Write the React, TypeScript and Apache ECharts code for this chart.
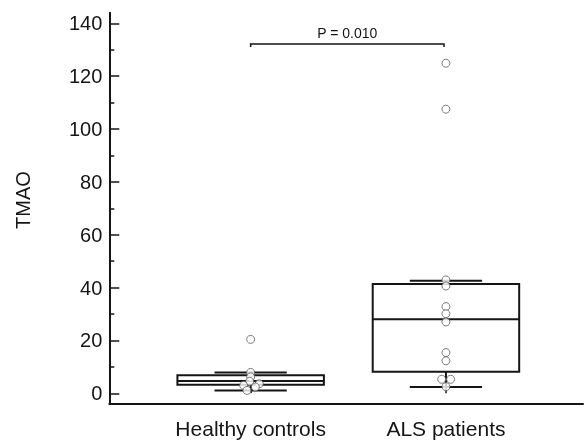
import React, { useEffect, useRef } from "react";
import * as echarts from "echarts";

const categories = ["Healthy controls", "ALS patients"];
const yTicks = { min: 0, max: 140, interval: 20 };

// box summaries: [lower whisker, Q1, median, Q3, upper whisker]
const healthyBox = [1.06, 3.2, 4.7, 6.85, 7.9];
const alsBox = [2.4, 8.2, 28.0, 41.35, 42.6];

// individual observations and their horizontal jitter (in group units)
const healthyValues = [20.4, 7.9, 6.2, 4.5, 3.0, 3.6, 2.4, 1.1];
const healthyJitter = [0, 0, 0, -0.005, -0.036, 0.044, 0.024, -0.019];
const alsValues = [124.9, 107.5, 42.9, 40.6, 32.8, 30.1, 27.0, 15.4, 12.3, 5.3, 5.3, 2.5];
const alsJitter = [0, 0, 0, 0, 0, 0, 0, 0, 0, -0.022, 0.024, 0];

const bracketFrom = 1;
const bracketTo = 1.99;
const bracketY = 132.2;
const pLabel = "P = 0.010";

const FONT = "'Liberation Sans', Arial, Helvetica, sans-serif";
const INK = "#151515";

export default function App() {
  const ref = useRef<HTMLDivElement>(null);
  useEffect(() => {
    if (!ref.current) return;
    const chart = echarts.init(ref.current, null, { renderer: "svg" });
    const boxData = [
      [1, ...healthyBox],
      [2, ...alsBox],
    ];
    const points = [
      ...healthyValues.map((v, i) => [1 + healthyJitter[i], v]),
      ...alsValues.map((v, i) => [2 + alsJitter[i], v]),
    ];
    const lineStyle = { stroke: INK, lineWidth: 2, fill: "none" };
    chart.setOption({
      animation: false,
      grid: [
        { left: 109.3, right: 1, top: 12.7, bottom: 36.3 },
        { left: 153, right: 40.4, top: 23.3, bottom: 46.7 },
      ],
      xAxis: [
        {
          type: "value", gridIndex: 0, min: 0, max: 1,
          axisLine: { show: true, onZero: false, lineStyle: { color: INK, width: 2 } },
          axisTick: { show: false }, axisLabel: { show: false }, splitLine: { show: false },
        },
        {
          type: "category", gridIndex: 1, data: categories, boundaryGap: true, offset: 10.4,
          axisLine: { show: false },
          axisTick: { show: true, inside: true, alignWithLabel: true, interval: 0, length: 10, lineStyle: { color: INK, width: 1.5 } },
          axisLabel: { fontSize: 21, color: INK, fontFamily: FONT, margin: 14, interval: 0 },
          splitLine: { show: false },
        },
        {
          type: "value", gridIndex: 1, min: 0.5, max: 2.5, show: false,
        },
      ],
      yAxis: [
        {
          type: "value", gridIndex: 0, min: 0, max: 1,
          axisLine: { show: true, onZero: false, lineStyle: { color: INK, width: 2 } },
          axisTick: { show: false }, axisLabel: { show: false }, splitLine: { show: false },
        },
        {
          type: "value", gridIndex: 1, min: yTicks.min, max: yTicks.max, interval: yTicks.interval, offset: 43.7,
          axisLine: { show: false },
          axisTick: { show: true, inside: true, length: 10, lineStyle: { color: INK, width: 1.5 } },
          minorTick: { show: true, splitNumber: 2, length: 5, lineStyle: { color: INK, width: 1.5 } },
          axisLabel: { fontSize: 20, color: INK, fontFamily: FONT, margin: 7 },
          splitLine: { show: false },
          minorSplitLine: { show: false },
        },
      ],
      series: [
        {
          type: "custom",
          xAxisIndex: 2,
          yAxisIndex: 1,
          z: 2,
          data: boxData,
          renderItem: (params: any, api: any) => {
            const x = api.value(0);
            const lo = api.coord([x, api.value(1)]);
            const q1 = api.coord([x, api.value(2)]);
            const med = api.coord([x, api.value(3)]);
            const q3 = api.coord([x, api.value(4)]);
            const hi = api.coord([x, api.value(5)]);
            const bw = api.size([0.75, 0])[0];
            const cw = api.size([0.37, 0])[0];
            const cx = lo[0];
            return {
              type: "group",
              children: [
                { type: "line", shape: { x1: cx, y1: lo[1], x2: cx, y2: q1[1] }, style: lineStyle },
                { type: "line", shape: { x1: cx, y1: q3[1], x2: cx, y2: hi[1] }, style: lineStyle },
                { type: "line", shape: { x1: cx - cw / 2, y1: lo[1], x2: cx + cw / 2, y2: lo[1] }, style: lineStyle },
                { type: "line", shape: { x1: cx - cw / 2, y1: hi[1], x2: cx + cw / 2, y2: hi[1] }, style: lineStyle },
                {
                  type: "rect",
                  shape: { x: cx - bw / 2, y: q3[1], width: bw, height: q1[1] - q3[1] },
                  style: { stroke: INK, lineWidth: 2, fill: "#ffffff" },
                },
                { type: "line", shape: { x1: cx - bw / 2, y1: med[1], x2: cx + bw / 2, y2: med[1] }, style: lineStyle },
              ],
            };
          },
        },
        {
          type: "scatter",
          xAxisIndex: 2,
          yAxisIndex: 1,
          z: 5,
          symbol: "circle",
          symbolSize: 8,
          itemStyle: { color: "#ffffff", borderColor: "#5a5a5a", borderWidth: 1 },
          data: points,
        },
        {
          type: "custom",
          xAxisIndex: 2,
          yAxisIndex: 1,
          z: 3,
          data: [[bracketFrom, bracketTo, bracketY]],
          renderItem: (params: any, api: any) => {
            const a = api.coord([api.value(0), api.value(2)]);
            const b = api.coord([api.value(1), api.value(2)]);
            return {
              type: "group",
              children: [
                {
                  type: "polyline",
                  shape: { points: [[a[0], a[1] + 3], [a[0], a[1]], [b[0], b[1]], [b[0], b[1] + 3]] },
                  style: { stroke: INK, lineWidth: 1.5, fill: "none" },
                },
                {
                  type: "text",
                  x: (a[0] + b[0]) / 2,
                  y: a[1] - 11,
                  style: {
                    text: pLabel, fontSize: 14, fontFamily: FONT, fill: INK,
                    align: "center", verticalAlign: "middle",
                  },
                },
              ],
            };
          },
        },
      ],
      graphic: [
        {
          type: "text",
          x: 22.7,
          y: 200,
          rotation: Math.PI / 2,
          style: {
            text: "TMAO", fontSize: 20, fontFamily: FONT, fill: INK,
            align: "center", verticalAlign: "middle",
          },
        },
      ],
    });
    return () => chart.dispose();
  }, []);
  return <div ref={ref} style={{ width: 584, height: 440, position: "fixed", left: 0, top: 0 }} />;
}
